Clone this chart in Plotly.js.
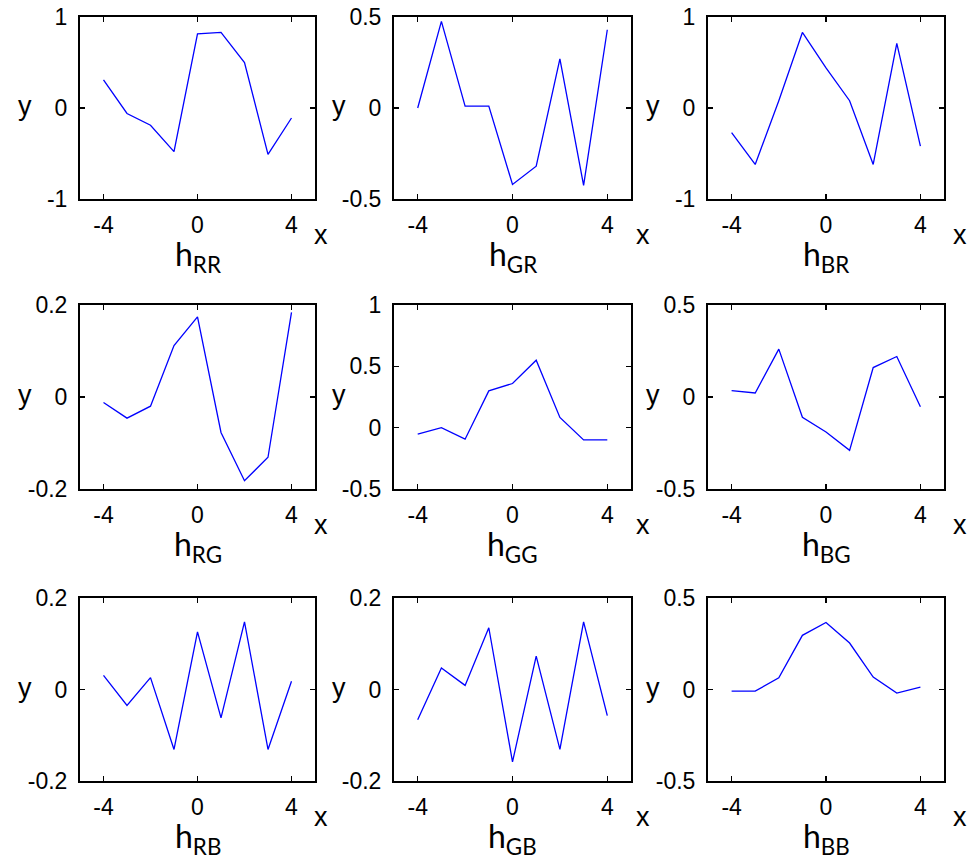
<!DOCTYPE html>
<html>
<head>
<meta charset="utf-8">
<script src="https://cdn.plot.ly/plotly-3.0.1.min.js"></script>
<style>
html,body{margin:0;padding:0;background:#fff;}
#chart{width:972px;height:861px;}
</style>
</head>
<body>
<div id="chart"></div>
<script>
// ---- data ----
const xValues = [-4, -3, -2, -1, 0, 1, 2, 3, 4];
const xTickVals = [-4, 0, 4];

const panelNames = ['RR', 'GR', 'BR', 'RG', 'GG', 'BG', 'RB', 'GB', 'BB'];

const hRR = [0.31, -0.06, -0.19, -0.48, 0.815, 0.83, 0.50, -0.51, -0.11];
const hGR = [0.00, 0.476, 0.01, 0.01, -0.42, -0.32, 0.27, -0.425, 0.43];
const hBR = [-0.27, -0.62, 0.08, 0.83, 0.44, 0.08, -0.62, 0.71, -0.42];
const hRG = [-0.012, -0.046, -0.02, 0.112, 0.174, -0.077, -0.182, -0.131, 0.184];
const hGG = [-0.053, 0.0, -0.094, 0.30, 0.36, 0.55, 0.083, -0.10, -0.10];
const hBG = [0.035, 0.022, 0.26, -0.11, -0.19, -0.29, 0.16, 0.22, -0.053];
const hRB = [0.031, -0.035, 0.026, -0.131, 0.126, -0.062, 0.148, -0.131, 0.018];
const hGB = [-0.066, 0.047, 0.009, 0.135, -0.158, 0.073, -0.131, 0.148, -0.057];
const hBB = [-0.009, -0.009, 0.064, 0.296, 0.366, 0.254, 0.068, -0.02, 0.013];

const seriesValues = [hRR, hGR, hBR, hRG, hGG, hBG, hRB, hGB, hBB];

const yRanges = [[-1, 1], [-0.5, 0.5], [-1, 1], [-0.2, 0.2], [-0.5, 1], [-0.5, 0.5], [-0.2, 0.2], [-0.2, 0.2], [-0.5, 0.5]];
const yTickVals = [
  [-1, 0, 1], [-0.5, 0, 0.5], [-1, 0, 1],
  [-0.2, 0, 0.2], [-0.5, 0, 0.5, 1], [-0.5, 0, 0.5],
  [-0.2, 0, 0.2], [-0.2, 0, 0.2], [-0.5, 0, 0.5]
];

// ---- layout geometry (pixels) ----
const W = 972, H = 861;
const colPx = [[80, 315], [394, 631], [708, 944]];
const rowPx = [[17, 199], [305, 489], [598, 781]];
const xLabelShift = [6, 12, 16];

const tickFont = {family: 'Arial, "Liberation Sans", sans-serif', size: 23, color: '#000'};
const labelFont = {family: 'Arial, "Liberation Sans", sans-serif', size: 27, color: '#000'};
const titleFont = {family: 'Lato, "Liberation Sans", Arial, sans-serif', size: 32, color: '#000'};

const traces = [];
const layout = {
  width: W, height: H,
  margin: {l: 0, r: 0, t: 0, b: 0},
  paper_bgcolor: '#fff',
  plot_bgcolor: '#fff',
  showlegend: false,
  annotations: []
};

panelNames.forEach((name, i) => {
  const r = Math.floor(i / 3), c = i % 3;
  const sfx = i === 0 ? '' : String(i + 1);
  traces.push({
    x: xValues,
    y: seriesValues[i],
    type: 'scatter',
    mode: 'lines',
    line: {color: '#0000ff', width: 1.3},
    xaxis: 'x' + sfx,
    yaxis: 'y' + sfx,
    hoverinfo: 'x+y'
  });
  const common = {
    showline: true, linecolor: '#000', linewidth: 2, mirror: 'ticks',
    ticks: 'inside', ticklen: 5, tickwidth: 1.3, tickcolor: '#000',
    showgrid: false, zeroline: false, tickfont: tickFont,
    tickmode: 'array', fixedrange: true
  };
  layout['xaxis' + sfx] = Object.assign({}, common, {
    domain: [colPx[c][0] / W, colPx[c][1] / W],
    range: [-5, 5],
    tickvals: xTickVals,
    ticktext: xTickVals.map(String),
    anchor: 'y' + sfx,
    ticklabelstandoff: 4
  });
  layout['yaxis' + sfx] = Object.assign({}, common, {
    domain: [1 - rowPx[r][1] / H, 1 - rowPx[r][0] / H],
    range: yRanges[i],
    tickvals: yTickVals[i],
    ticktext: yTickVals[i].map(String),
    anchor: 'x' + sfx,
    ticklabelstandoff: 6
  });
  // panel label h_XX
  layout.annotations.push({
    xref: 'x' + sfx + ' domain', yref: 'y' + sfx + ' domain',
    x: 0.5, y: 0, xanchor: 'center', yanchor: 'middle',
    yshift: -57, showarrow: false,
    text: 'h<sub>' + name + '</sub>', font: titleFont
  });
  // x label
  layout.annotations.push({
    xref: 'x' + sfx + ' domain', yref: 'y' + sfx + ' domain',
    x: 1, y: 0, xanchor: 'center', yanchor: 'middle',
    xshift: xLabelShift[c], yshift: -36, showarrow: false,
    text: 'x', font: labelFont
  });
  // y label
  layout.annotations.push({
    xref: 'x' + sfx + ' domain', yref: 'y' + sfx + ' domain',
    x: 0, y: 0.5, xanchor: 'center', yanchor: 'middle',
    xshift: -55, yshift: 2, showarrow: false,
    text: 'y', font: labelFont
  });
});

Plotly.newPlot('chart', traces, layout, {displayModeBar: false, staticPlot: true});
</script>
</body>
</html>
